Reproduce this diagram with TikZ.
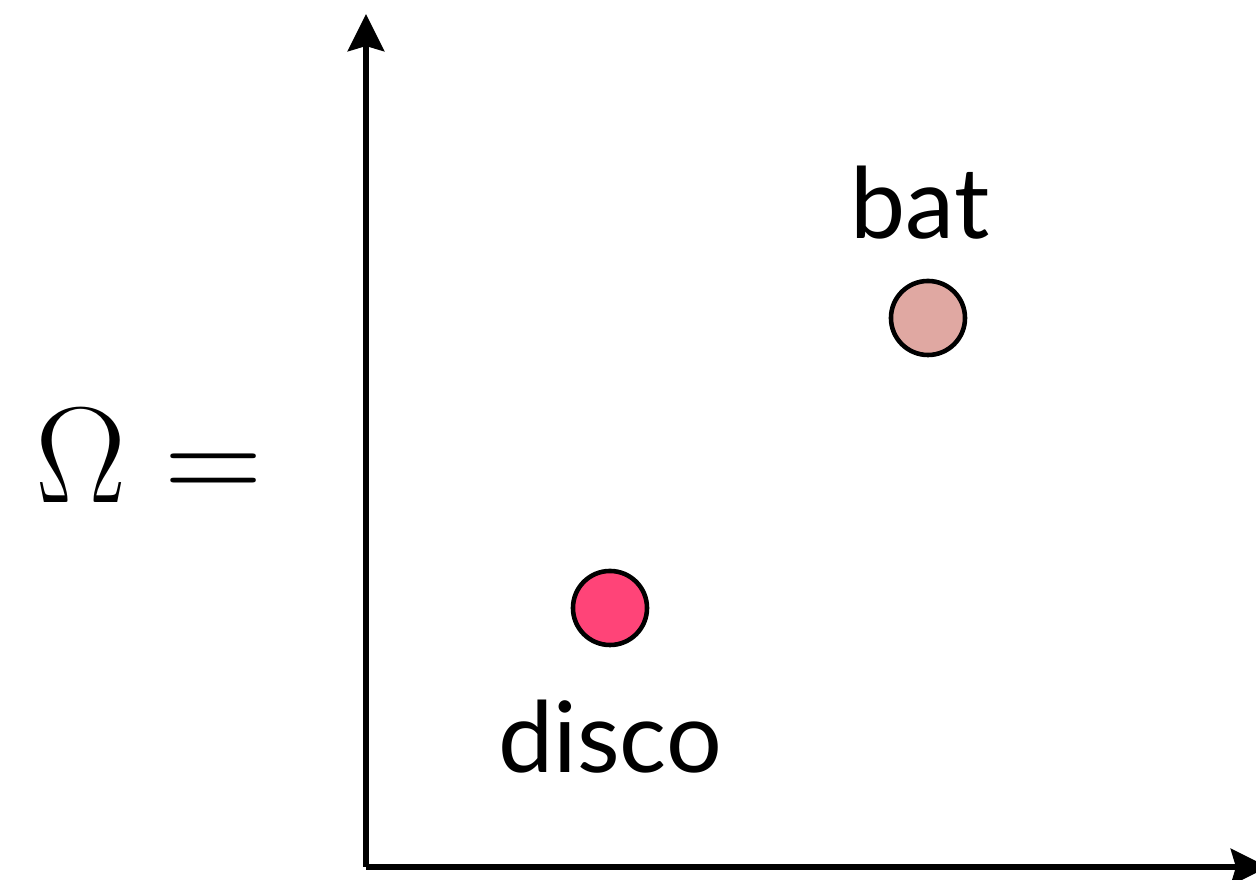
\documentclass[tikz,border=0pt]{standalone}
\usepackage{amsmath,amsfonts,amssymb}
\usepackage{xcolor}
\usepackage{fontspec}
\setsansfont{Lato}
\usepackage{tikz}
\usetikzlibrary{arrows.meta}

\definecolor{batpink}{HTML}{E0A8A2}
\definecolor{discopink}{HTML}{FF4478}

\begin{document}
\begin{tikzpicture}[x=0.01cm,y=-0.01cm,
    axis/.style={line width=1.9pt, -{Stealth[length=0.37cm,width=0.36cm,inset=0.05cm]}},
    point/.style={circle, draw, line width=1.3pt, minimum size=0.74cm, inner sep=0pt},
    word/.style={font=\sffamily\fontsize{28}{34}\selectfont}]
            \useasboundingbox (0,0) rectangle (1256,880);

            % Axes
            \coordinate (origin) at (366,867);
            \coordinate (ytop) at (366,14);
            \coordinate (xend) at (1268,867);
            \draw[axis] (origin) -- (ytop);
            \draw[axis] (origin) -- (xend);

            % Omega label
            \node[font=\Huge, scale=1.56] (omega) at (149,456) {$\Omega =$};

            % Points
            \node[point, fill=batpink] (bat) at (928,318) {};
            \node[point, fill=discopink] (disco) at (610,608) {};

            % Words
            \node[word] (batlabel) at (920,203) {bat};
            \node[word] (discolabel) at (610,737) {disco};
        \end{tikzpicture}
\end{document}
